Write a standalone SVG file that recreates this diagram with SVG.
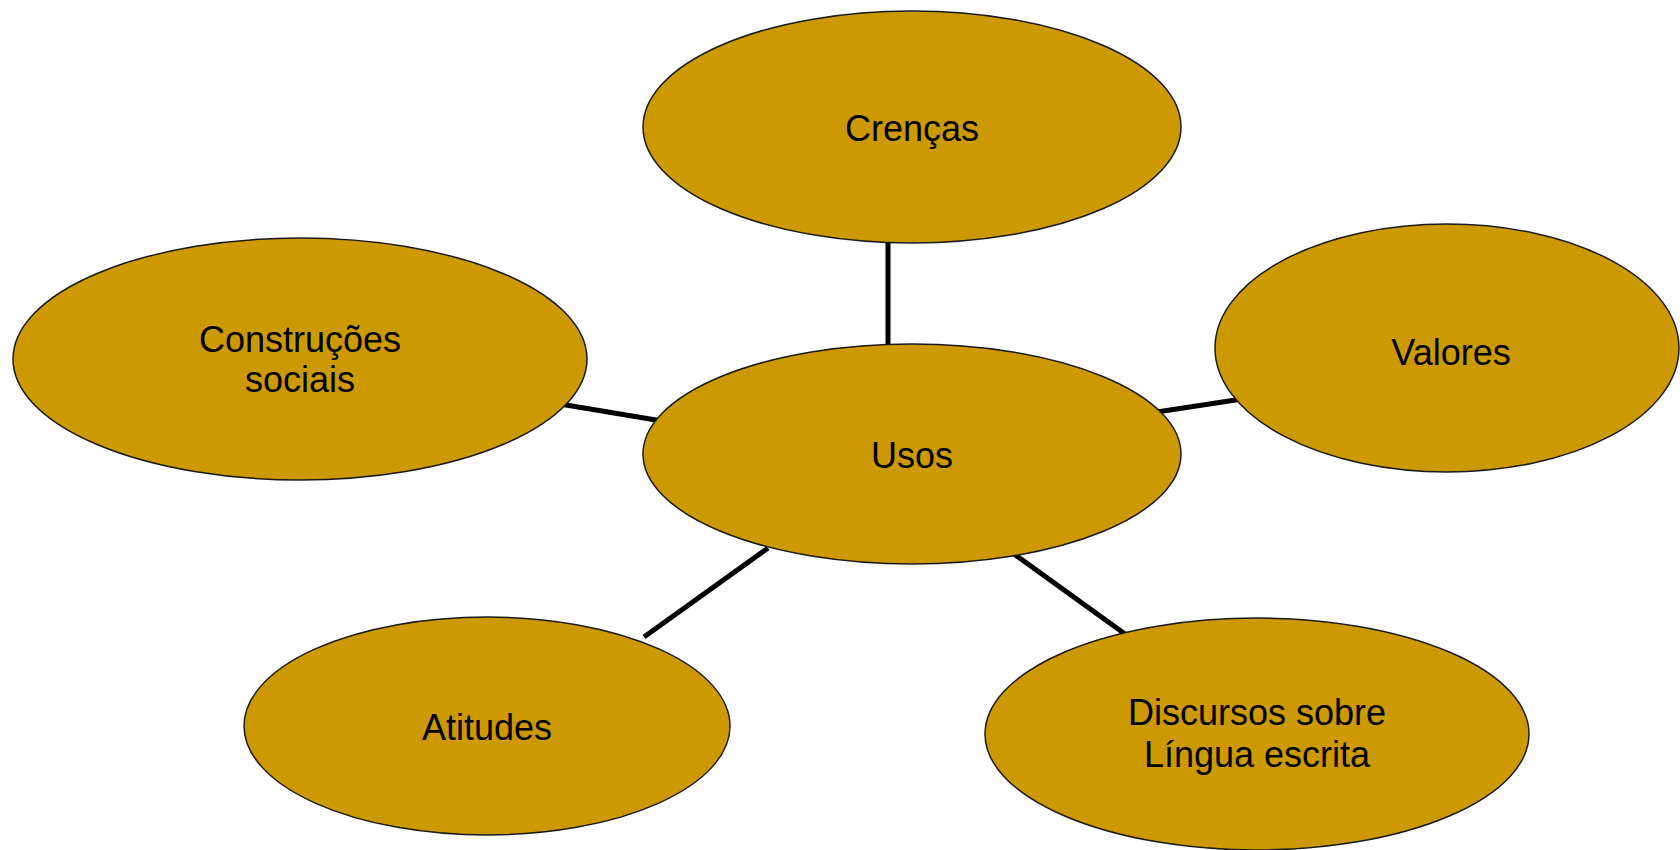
<svg xmlns="http://www.w3.org/2000/svg" width="1680" height="850" viewBox="0 0 1680 850">
<style>
.node ellipse{fill:#CC9900;stroke:#1a1a1a;stroke-width:1.5}
.node text{font-family:"Liberation Sans",Arial,sans-serif;font-size:36px;fill:#000;text-anchor:middle}
.conn line{stroke:#000;stroke-width:5}
</style>
<rect width="1680" height="850" fill="#fff"/>
<g class="conn">
<line x1="888" y1="240" x2="888" y2="348"/>
<line x1="560" y1="404" x2="662" y2="421"/>
<line x1="1157" y1="412" x2="1242" y2="399"/>
<line x1="644" y1="637" x2="768" y2="548"/>
<line x1="1014" y1="554" x2="1125" y2="634"/>
</g>
<g id="crencas" class="node">
<ellipse cx="912" cy="127" rx="269" ry="116"/>
<text x="912" y="141">Crenças</text>
</g>
<g id="usos" class="node">
<ellipse cx="912" cy="454" rx="269" ry="110"/>
<text x="912" y="468">Usos</text>
</g>
<g id="construcoes" class="node">
<ellipse cx="300" cy="359" rx="287" ry="121"/>
<text x="300" y="352">Construções</text>
<text x="300" y="392">sociais</text>
</g>
<g id="valores" class="node">
<ellipse cx="1447" cy="348" rx="232" ry="124"/>
<text x="1451" y="365">Valores</text>
</g>
<g id="atitudes" class="node">
<ellipse cx="487" cy="726" rx="243" ry="109"/>
<text x="487" y="740">Atitudes</text>
</g>
<g id="discursos" class="node">
<ellipse cx="1257" cy="734" rx="272" ry="116"/>
<text x="1257" y="725">Discursos sobre</text>
<text x="1257" y="767">Língua escrita</text>
</g>
</svg>
